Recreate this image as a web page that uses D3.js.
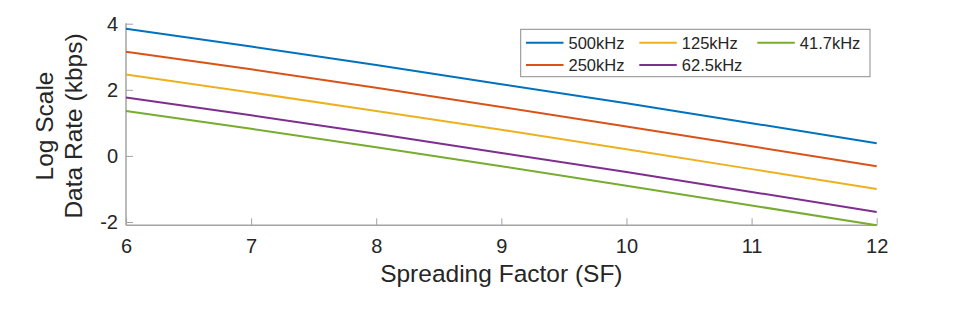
<!DOCTYPE html>
<html>
<head>
<meta charset="utf-8">
<script src="https://cdn.jsdelivr.net/npm/d3@7"></script>
<style>
    body { margin: 0; background: #fff; }
    svg { display: block; font-family: "Liberation Sans", Arial, sans-serif; }
</style>
</head>
<body>
<div id="chart"></div>
<script>
// spreading factor on x, log of data rate on y
var sf = [6, 7, 8, 9, 10, 11, 12]
var bw500 = [3.85, 3.31, 2.75, 2.17, 1.59, 0.99, 0.38]
var bw250 = [3.15, 2.62, 2.06, 1.48, 0.89, 0.29, -0.31]
var bw125 = [2.46, 1.92, 1.36, 0.79, 0.20, -0.40, -1.00]
var bw62 = [1.77, 1.23, 0.67, 0.09, -0.49, -1.09, -1.70]
var bw41 = [1.36, 0.82, 0.26, -0.31, -0.90, -1.50, -2.10]
var seriesNames = ['500kHz', '250kHz', '125kHz', '62.5kHz', '41.7kHz']
var xTicks = [6, 7, 8, 9, 10, 11, 12]
var yTicks = [-2, 0, 2, 4]

var colors = ['#0072BD', '#D95319', '#EDB120', '#7E2F8E', '#77AC30']
var series = [bw500, bw250, bw125, bw62, bw41]

var W = 969, H = 314
var svg = d3.select('#chart').append('svg').attr('width', W).attr('height', H)

var x = d3.scaleLinear().domain([6, 12]).range([126, 876.7])
var y = d3.scaleLinear().domain([-2.1, 4]).range([225.3, 23.7])

var textColor = '#262626'
var axisColor = '#a3a3a3'

// plain hyphen for negatives, like the original
var plain = function (d) { return String(d) }

// axes, ticks inside like matlab
var xAxis = d3.axisBottom(x).tickValues(xTicks).tickFormat(plain)
    .tickSizeInner(-7).tickSizeOuter(0).tickPadding(14)
var yAxis = d3.axisLeft(y).tickValues(yTicks).tickFormat(plain)
    .tickSizeInner(-7).tickSizeOuter(0).tickPadding(8)

var gx = svg.append('g').attr('transform', 'translate(0,' + y(-2.1) + ')').call(xAxis)
var gy = svg.append('g').attr('transform', 'translate(' + x(6) + ',0)').call(yAxis)

gx.select('.domain').attr('d', 'M' + x(6) + ',0H' + x(12))
gy.select('.domain').attr('d', 'M0,' + y(-2.1) + 'V' + y(4.01))
;[gx, gy].forEach(function (g) {
    g.select('.domain').attr('stroke', axisColor).attr('stroke-width', 1.5)
    g.selectAll('.tick line').attr('stroke', axisColor).attr('stroke-width', 1)
    g.selectAll('.tick text').attr('fill', textColor).attr('font-size', 20)
        .attr('font-family', '"Liberation Sans", Arial, sans-serif')
})
gx.selectAll('.tick text').attr('dy', '0.71em')

// data lines
var line = d3.line()
    .x(function (d, i) { return x(sf[i]) })
    .y(function (d) { return y(d) })

svg.selectAll('path.series').data(series).enter()
    .append('path')
    .attr('class', 'series')
    .attr('d', line)
    .attr('fill', 'none')
    .attr('stroke', function (d, i) { return colors[i] })
    .attr('stroke-width', 2)

// axis labels
svg.append('text')
    .attr('x', (x(6) + x(12)) / 2).attr('y', 282)
    .attr('text-anchor', 'middle')
    .attr('font-size', 24.5)
    .attr('fill', textColor)
    .text('Spreading Factor (SF)')

var ylab = svg.append('text')
    .attr('transform', 'translate(0,' + 126 + ') rotate(-90)')
    .attr('text-anchor', 'middle')
    .attr('font-size', 24.5)
    .attr('fill', textColor)
ylab.append('tspan').attr('x', 0).attr('y', 53).text('Log Scale')
ylab.append('tspan').attr('x', 0).attr('y', 82).text('Data Rate (kbps)')

// legend, filled column-wise in 3 columns
var legend = svg.append('g')
legend.append('rect')
    .attr('x', 520.7).attr('y', 29.3)
    .attr('width', 349.3).attr('height', 47.4)
    .attr('fill', '#fff')
    .attr('stroke', '#8c8c8c')
    .attr('stroke-width', 1)

var colX = [526, 639.3, 757.3]
var rowY = [42.7, 65]
seriesNames.forEach(function (name, i) {
    var cx = colX[Math.floor(i / 2)]
    var cy = rowY[i % 2]
    legend.append('line')
        .attr('x1', cx).attr('x2', cx + 37.5)
        .attr('y1', cy).attr('y2', cy)
        .attr('stroke', colors[i]).attr('stroke-width', 2)
    legend.append('text')
        .attr('x', cx + 42.5).attr('y', cy)
        .attr('dy', '0.36em')
        .attr('font-size', 16.5)
        .attr('fill', textColor)
        .text(name)
})
</script>
</body>
</html>
